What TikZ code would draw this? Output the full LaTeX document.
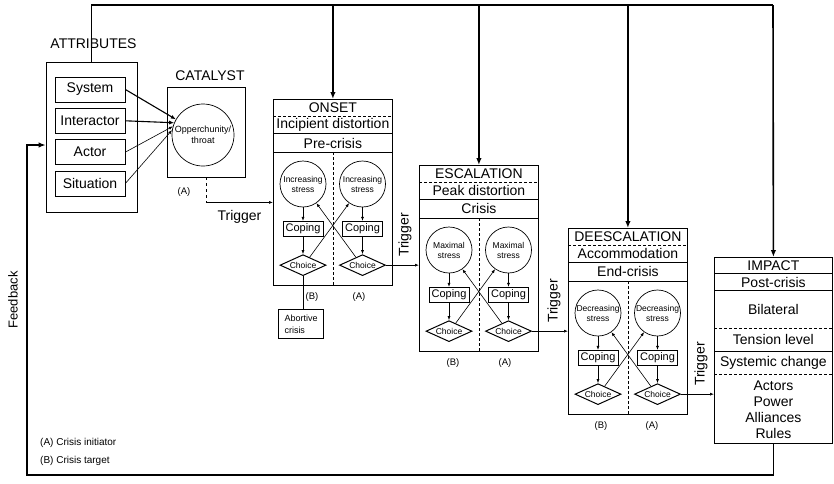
\documentclass[tikz,border=0pt]{standalone}
\usepackage{fontspec}
\setmainfont{Liberation Sans}
\usetikzlibrary{shapes.geometric,arrows.meta,positioning,calc}

\begin{document}
\begin{tikzpicture}[
    x=1pt, y=-1pt,
    big/.style={font=\fontsize{14}{16}\selectfont},
    small/.style={font=\fontsize{9.5}{11}\selectfont},
    heading/.style={inner sep=0pt, big},
    boxframe/.style={rectangle, draw, line width=0.8pt, inner sep=0pt},
    attrbox/.style={boxframe, minimum width=70pt, minimum height=25pt, big},
    stage/.style={boxframe, minimum width=119pt, minimum height=186pt, anchor=north west},
    row/.style={inner sep=0pt, minimum width=119pt, big},
    stress/.style={circle, draw, line width=0.7pt, minimum size=46pt, inner sep=0pt, align=center, font=\fontsize{8.5}{10}\selectfont},
    coping/.style={boxframe, minimum width=40pt, minimum height=15pt, font=\fontsize{11}{12}\selectfont},
    choice/.style={diamond, draw, line width=1pt, aspect=2.2, inner sep=0pt, minimum width=46pt, minimum height=21pt, font=\fontsize{8.5}{9.5}\selectfont},
    abort/.style={boxframe, minimum width=45pt, minimum height=29pt, text width=32pt, align=left, font=\fontsize{9}{12}\selectfont},
    arrow/.style={line width=0.6pt, -{Latex[length=4pt,width=3pt]}},
    feed/.style={line width=1.1pt, -{Latex[length=5pt,width=4pt]}},
    thickline/.style={line width=1.6pt},
    drop/.style={thickline, -{Latex[length=7pt,width=5.5pt]}},
    divider/.style={line width=0.7pt, dash pattern=on 3pt off 2pt}
]
\useasboundingbox (0,0) rectangle (834,483);

% Attributes
\node[boxframe, minimum width=91pt, minimum height=150pt] (attr) at (91.5,137) {};
\node[heading, above=12.7pt of attr, xshift=2pt] (attrLabel) {ATTRIBUTES};
\node[attrbox] (system) at (90,89.5) {System};
\node[attrbox, below=5.5pt of system] (interactor) {Interactor};
\node[attrbox, below=5.5pt of interactor] (actor) {Actor};
\node[attrbox, below=5.5pt of actor] (situation) {Situation};

% Catalyst
\node[boxframe, minimum width=78pt, minimum height=90pt] (cat) at (206,132) {};
\node[heading, above=5.3pt of cat, xshift=4pt] (catLabel) {CATALYST};
\node[circle, draw, line width=0.7pt, minimum size=62pt, inner sep=0pt, align=center, font=\fontsize{9}{11.5}\selectfont] (opp) at ($(cat.center)+(-3,3)$) {Opperchunity/\\throat};
\node[small] (catA) at (184,192) {(A)};

\draw[feed] (system.east) -- (opp.150);
\draw[feed] (interactor.east) -- (opp.157);
\draw[arrow] (actor.east) -- (opp.164);
\draw[arrow] (situation.east) -- (opp.171);

% Onset
\node[stage] (onset) at (273,99) {};
\node[row, minimum height=16.5pt, below=0pt of onset.north] (onT) {ONSET};
\node[row, minimum height=17.5pt, below=0pt of onT] (onI) {Incipient distortion};
\node[row, minimum height=18pt, below=0pt of onI] (onP) {Pre-crisis};
\draw[divider] (onT.south west) -- (onT.south east);
\draw[line width=0.8pt] (onI.south west) -- (onI.south east);
\draw[line width=0.8pt] (onP.south west) -- (onP.south east);
\draw[divider] (onP.south) -- (onset.south);
\node[stress] (onStressB) at ($(onset.north west)+(30,85)$) {Increasing\\stress};
\node[stress] (onStressA) at ($(onset.north west)+(89.5,85)$) {Increasing\\stress};
\node[coping, below=13.5pt of onStressB] (onCopeB) {Coping};
\node[coping, below=13.5pt of onStressA] (onCopeA) {Coping};
\node[choice, below=17.5pt of onCopeB] (onChoiceB) {Choice};
\node[choice, below=17.5pt of onCopeA] (onChoiceA) {Choice};
\node[small] (onLabB) at ($(onset.north west)+(39,198)$) {(B)};
\node[small] (onLabA) at ($(onset.north west)+(86,198)$) {(A)};
\node[abort, below=33pt of onChoiceB, xshift=-2.5pt] (abortive) {Abortive\\crisis};

\draw[arrow] (onStressB) -- (onCopeB);
\draw[arrow] (onCopeB) -- (onChoiceB);
\draw[arrow] (onStressA) -- (onCopeA);
\draw[arrow] (onCopeA) -- (onChoiceA);
\draw[arrow] (onChoiceB.50) -- (onStressA.235);
\draw[arrow] (onChoiceA.130) -- (onStressB.305);
\draw[line width=0.8pt] (onChoiceB.south) -- (onChoiceB.south |- abortive.north);

% Escalation
\node[stage] (esc) at (419,165) {};
\node[row, minimum height=16.5pt, below=0pt of esc.north] (esT) {ESCALATION};
\node[row, minimum height=17pt, below=0pt of esT] (esI) {Peak distortion};
\node[row, minimum height=18.5pt, below=0pt of esI] (esP) {Crisis};
\draw[divider] (esT.south west) -- (esT.south east);
\draw[line width=0.8pt] (esI.south west) -- (esI.south east);
\draw[line width=0.8pt] (esP.south west) -- (esP.south east);
\draw[divider] (esP.south) -- (esc.south);
\node[stress] (esStressB) at ($(esc.north west)+(30,85)$) {Maximal\\stress};
\node[stress] (esStressA) at ($(esc.north west)+(89.5,85)$) {Maximal\\stress};
\node[coping, below=13.5pt of esStressB] (esCopeB) {Coping};
\node[coping, below=13.5pt of esStressA] (esCopeA) {Coping};
\node[choice, below=17.5pt of esCopeB] (esChoiceB) {Choice};
\node[choice, below=17.5pt of esCopeA] (esChoiceA) {Choice};
\node[small] (esLabB) at ($(esc.north west)+(34,198)$) {(B)};
\node[small] (esLabA) at ($(esc.north west)+(86,198)$) {(A)};

\draw[arrow] (esStressB) -- (esCopeB);
\draw[arrow] (esCopeB) -- (esChoiceB);
\draw[arrow] (esStressA) -- (esCopeA);
\draw[arrow] (esCopeA) -- (esChoiceA);
\draw[arrow] (esChoiceB.50) -- (esStressA.235);
\draw[arrow] (esChoiceA.130) -- (esStressB.305);

% Deescalation
\node[stage] (deesc) at (568,228) {};
\node[row, minimum height=16.5pt, below=0pt of deesc.north] (deT) {DEESCALATION};
\node[row, minimum height=17pt, below=0pt of deT] (deI) {Accommodation};
\node[row, minimum height=18.5pt, below=0pt of deI] (deP) {End-crisis};
\draw[divider] (deT.south west) -- (deT.south east);
\draw[line width=0.8pt] (deI.south west) -- (deI.south east);
\draw[line width=0.8pt] (deP.south west) -- (deP.south east);
\draw[divider] (deP.south) -- (deesc.south);
\node[stress] (deStressB) at ($(deesc.north west)+(30,85)$) {Decreasing\\stress};
\node[stress] (deStressA) at ($(deesc.north west)+(89.5,85)$) {Decreasing\\stress};
\node[coping, below=13.5pt of deStressB] (deCopeB) {Coping};
\node[coping, below=13.5pt of deStressA] (deCopeA) {Coping};
\node[choice, below=17.5pt of deCopeB] (deChoiceB) {Choice};
\node[choice, below=17.5pt of deCopeA] (deChoiceA) {Choice};
\node[small] (deLabB) at ($(deesc.north west)+(33,198)$) {(B)};
\node[small] (deLabA) at ($(deesc.north west)+(84,198)$) {(A)};

\draw[arrow] (deStressB) -- (deCopeB);
\draw[arrow] (deCopeB) -- (deChoiceB);
\draw[arrow] (deStressA) -- (deCopeA);
\draw[arrow] (deCopeA) -- (deChoiceA);
\draw[arrow] (deChoiceB.50) -- (deStressA.235);
\draw[arrow] (deChoiceA.130) -- (deStressB.305);

% Impact
\node[boxframe, minimum width=118pt, minimum height=186pt, anchor=north west] (impact) at (714,257) {};
\node[row, minimum width=118pt, minimum height=16pt, below=0pt of impact.north] (imT) {IMPACT};
\node[row, minimum width=118pt, minimum height=17pt, below=0pt of imT] (imP) {Post-crisis};
\node[row, minimum width=118pt, minimum height=37pt, below=0pt of imP] (imB) {Bilateral};
\node[row, minimum width=118pt, minimum height=23pt, below=0pt of imB] (imL) {Tension level};
\node[row, minimum width=118pt, minimum height=22pt, below=0pt of imL] (imS) {Systemic change};
\node[row, minimum width=118pt, minimum height=71pt, below=0pt of imS, align=center] (imR) {Actors\\Power\\Alliances\\Rules};
\draw[line width=0.8pt] (imT.south west) -- (imT.south east);
\draw[line width=0.8pt] (imP.south west) -- (imP.south east);
\draw[divider] (imB.south west) -- (imB.south east);
\draw[line width=0.8pt] (imL.south west) -- (imL.south east);
\draw[divider] (imS.south west) -- (imS.south east);

% Triggers
\draw[line width=0.6pt, dashed] (cat.south) -- ++(0,25) coordinate (catOut);
\draw[arrow] (catOut) -- (catOut -| onset.west) node[heading, midway, below=8pt] (trigCat) {Trigger};
\draw[arrow] (onChoiceA.east) -- (onChoiceA.east -| esc.west);
\draw[arrow] (esChoiceA.east) -- (esChoiceA.east -| deesc.west);
\draw[arrow] (deChoiceA.east) -- (deChoiceA.east -| impact.west);
\node[heading, rotate=90, anchor=west] (trigOn) at ($(onChoiceA.east -| esc.west)+(-14,-8)$) {Trigger};
\node[heading, rotate=90, anchor=west] (trigEs) at ($(esChoiceA.east -| deesc.west)+(-14,-8)$) {Trigger};
\node[heading, rotate=90, anchor=west] (trigDe) at ($(deChoiceA.east -| impact.west)+(-13,-8)$) {Trigger};

% Top line
\coordinate (topR) at (773,5);
\draw[thickline] (attr.north) |- (topR);
\draw[drop] (topR) -- (impact.north);
\draw[drop] (onset.north |- topR) -- (onset.north);
\draw[drop] (esc.north |- topR) -- (esc.north);
\draw[drop] (deesc.north |- topR) -- (deesc.north);

% Feedback
\coordinate (fbCorner) at (27,475);
\draw[drop] (impact.south) |- (fbCorner) |- ([yshift=-8pt]attr.west);
\node[rotate=90, inner sep=0pt, font=\fontsize{13}{15}\selectfont] (fbLabel) at (13,300) {Feedback};

% Legend
\node[anchor=west, inner sep=0pt, font=\fontsize{10}{12}\selectfont] (legA) at (40,443) {(A) Crisis initiator};
\node[anchor=west, inner sep=0pt, font=\fontsize{10}{12}\selectfont] (legB) at (40,461) {(B) Crisis target};

\end{tikzpicture}
\end{document}
